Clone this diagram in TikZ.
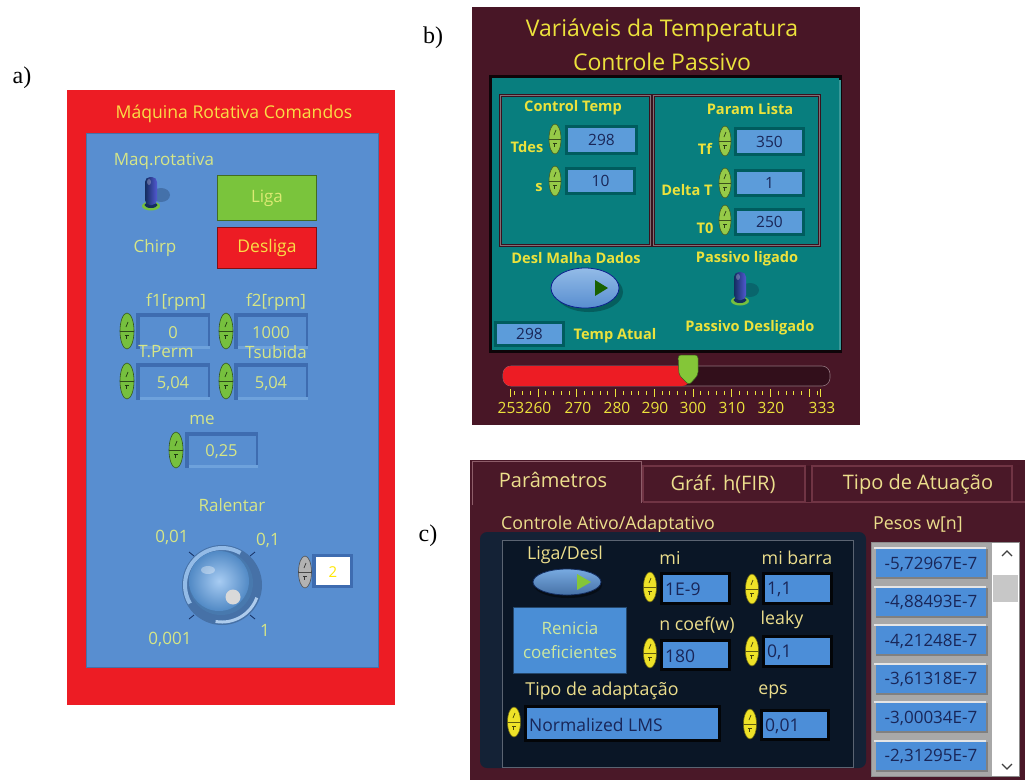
\documentclass[tikz,border=0pt]{standalone}
\usepackage{fontspec}
\setmainfont{Liberation Serif}
\newfontfamily\ui{Open Sans}
\usetikzlibrary{shapes.geometric}

% palette
\definecolor{redA}{RGB}{237,28,36}
\definecolor{blueA}{RGB}{88,142,208}
\definecolor{blueAdark}{RGB}{62,108,176}
\definecolor{blueAlight}{RGB}{120,170,225}
\definecolor{titleA}{RGB}{250,222,70}
\definecolor{lblA}{RGB}{214,230,135}
\definecolor{greenBtn}{RGB}{122,196,60}
\definecolor{greenSpin}{RGB}{118,192,62}
\definecolor{graySpin}{RGB}{178,178,178}
\definecolor{navyKnob}{RGB}{20,45,95}
\definecolor{knobBall}{RGB}{96,162,232}
\definecolor{maroonB}{RGB}{72,22,38}
\definecolor{tealB}{RGB}{8,126,126}
\definecolor{tealDark}{RGB}{0,92,94}
\definecolor{yelB}{RGB}{236,226,60}
\definecolor{fieldB}{RGB}{92,156,218}
\definecolor{navyTxt}{RGB}{25,38,88}
\definecolor{spinB}{RGB}{150,202,72}
\definecolor{maroonC}{RGB}{74,24,40}
\definecolor{tabEdge}{RGB}{112,52,68}
\definecolor{navyC}{RGB}{20,34,54}
\definecolor{navyC2}{RGB}{10,22,38}
\definecolor{yelC}{RGB}{236,222,140}
\definecolor{fieldC}{RGB}{76,142,216}
\definecolor{spinC}{RGB}{238,226,40}
\definecolor{btnC}{RGB}{74,142,214}
\definecolor{btnCtxt}{RGB}{205,232,160}
\definecolor{grayFrame}{RGB}{168,168,168}

\tikzset{
  lblA/.style={font=\ui\fontsize{17}{17}\selectfont, text=lblA, inner sep=0pt},
  valA/.style={font=\ui\fontsize{16.5}{16.5}\selectfont, text=lblA, inner sep=0pt},
  lblB/.style={font=\ui\bfseries\fontsize{14.6}{14.6}\selectfont, text=yelB, inner sep=0pt},
  valB/.style={font=\ui\fontsize{15.5}{15.5}\selectfont, text=navyTxt, inner sep=0pt},
  lblC/.style={font=\ui\fontsize{17.8}{17.8}\selectfont, text=yelC, inner sep=0pt},
  valC/.style={font=\ui\fontsize{17.5}{17.5}\selectfont, text=navyTxt, inner sep=0pt, anchor=west},
  tabtxt/.style={font=\ui\fontsize{20}{20}\selectfont, text=yelC, inner sep=0pt},
  panellbl/.style={font=\fontsize{24}{24}\selectfont, text=black, inner sep=0pt},
}

% spinner: name, x, y, colour, width, height
\newcommand\spinner[6]{%
  \node[ellipse, draw=#4!45!black, line width=0.6pt, fill=#4,
        minimum width=#5, minimum height=#6, inner sep=0pt] (#1) at (#2,#3) {};
  \draw[#4!40!black, line width=0.8pt] (#1.west) -- (#1.east);
  \draw[#4!30!black, line width=0.7pt] (#2-1,#3-4) -- (#2+1,#3-9);
  \draw[#4!30!black, line width=0.7pt] (#2-2,#3+4) -- (#2+2,#3+4) (#2-1,#3+4) -- (#2-1,#3+8);
}
% raised numeric field of the rotor panel: name, x1, y1, x2, y2, value
\newcommand\fieldA[6]{%
  \fill[blueAdark] (#2,#3) rectangle (#4,#5);
  \fill[blueAlight!70!blueA] (#2+4,#5-3) rectangle (#4,#5);
  \fill[blueA] (#2+4,#3+4) rectangle (#4-2,#5-3);
  \node[valA] (#1) at ({(#2+#4)/2},{(#3+#5)/2+2}) {#6};
}
% field of the temperature panel: name, x1, y1, x2, y2, value
\newcommand\fieldB[6]{%
  \fill[tealDark] (#2-3,#3-3) rectangle (#4+3,#5+3);
  \fill[fieldB] (#2,#3) rectangle (#4,#5);
  \node[valB] (#1) at ({(#2+#4)/2},{(#3+#5)/2}) {#6};
}
% field of the adaptive panel: name, x1, y1, x2, y2, value
\newcommand\fieldC[6]{%
  \fill[black!85!navyC] (#2-3,#3-3) rectangle (#4+3,#5+3);
  \fill[fieldC] (#2,#3) rectangle (#4,#5);
  \node[valC] (#1) at (#2+2,{(#3+#5)/2+1}) {#6};
}
% toggle lever: x, y (centre of the lever)
\newcommand\lever[2]{%
  \fill[navyKnob!60!black, opacity=0.25] (#1+10,#2+2) ellipse (9 and 7);
  \fill[greenSpin] (#1,#2+13) ellipse (9 and 4.5);
  \fill[navyKnob] (#1,#2+12) ellipse (6.5 and 3);
  \shade[left color=navyKnob, right color=navyKnob!40!blue!70!white, rounded corners=5]
    (#1-6,#2+12) -- (#1-6,#2-16) -- (#1+6,#2-16) -- (#1+6,#2+12) -- cycle;
  \fill[white, opacity=0.25] (#1-2,#2-11) ellipse (2 and 3);
}

\begin{document}
\begin{tikzpicture}[x=1pt,y=-1pt]
\useasboundingbox (0,0) rectangle (1025,780);
\fill[white] (0,0) rectangle (1025,780);

% ================= a) rotating machine commands =================
\node[panellbl] (la) at (22,78) {a)};
\fill[redA] (67,90) rectangle (395,705);
\fill[blueA!80!black] (86,133) rectangle (379,668);
\fill[blueA] (87,134) rectangle (378,667);
\node[font=\ui\fontsize{17.6}{17.6}\selectfont, text=titleA, inner sep=0pt] (titleA) at (234,114) {Máquina Rotativa Comandos};

\node[lblA] (maq) at (164,161) {Maq.rotativa};
\lever{151}{193}
\node[draw=greenBtn!55!black, line width=1pt, fill=greenBtn, minimum width=99, minimum height=45,
      inner sep=0pt, font=\ui\fontsize{17}{17}\selectfont, text=lblA!85!yellow] (liga) at (267,198) {Liga};
\node[draw=redA!55!black, line width=1pt, fill=redA, minimum width=99, minimum height=41,
      inner sep=0pt, font=\ui\fontsize{17.5}{17.5}\selectfont, text=titleA] (desliga) at (267,248) {Desliga};
\node[lblA] (chirp) at (155,248) {Chirp};

\node[lblA] (f1l) at (176,302) {f1[rpm]};
\node[lblA] (f2l) at (276,302) {f2[rpm]};
\fieldA{f1}{136}{313}{210}{349}{0}
\fieldA{f2}{234}{313}{308}{349}{1000}
\spinner{sf1}{127}{331}{greenSpin}{14}{36}
\spinner{sf2}{226}{331}{greenSpin}{14}{36}
\node[lblA] (tpl) at (166,352) {T.Perm};
\node[lblA] (tsl) at (276,352) {Tsubida};
\fieldA{tp}{136}{363}{210}{400}{5,04}
\fieldA{ts}{234}{363}{308}{400}{5,04}
\spinner{stp}{127}{381}{greenSpin}{14}{36}
\spinner{sts}{226}{381}{greenSpin}{14}{36}

\node[lblA] (mel) at (202,420) {me};
\fieldA{me}{185}{432}{258}{468}{0,25}
\spinner{sme}{176}{450}{greenSpin}{14}{36}

\node[lblA] (ral) at (232,505) {Ralentar};
% rotary knob
\fill[blueA!80!black] (222,585) circle (40);
\draw[blueAlight!80!white, line width=4pt] (222,585) ++(-60:37) arc[start angle=-60, end angle=-210, radius=37];
\draw[blueAlight!60!white, line width=3pt] (222,585) ++(20:37) arc[start angle=20, end angle=100, radius=37];
\fill[knobBall!75!black] (221,583) circle (32);
\shade[inner color=knobBall!55!white, outer color=knobBall!85!black] (219,581) circle (30);
\fill[white, opacity=0.35] (208,570) ellipse (7 and 4);
\fill[black!15] (233,597) circle (7.5);
\foreach \ax/\ay/\bx/\by in {189/552/194/556, 255/552/250/556, 189/619/194/615, 255/619/250/615}
  \draw[navyKnob, line width=0.8pt] (\ax,\ay) -- (\bx,\by);
\node[lblA] (k1) at (172,537) {0,01};
\node[lblA] (k2) at (268,540) {0,1};
\node[lblA] (k3) at (170,639) {0,001};
\node[lblA] (k4) at (265,630) {1};
% digital readout of the knob
\fill[blueAdark] (312,554) rectangle (353,588);
\fill[white] (316,557) rectangle (350,585);
\node[font=\ui\fontsize{15}{15}\selectfont, text=yellow!90!orange, inner sep=0pt] (kval) at (333,572) {2};
\spinner{skn}{305}{572}{graySpin}{13}{32}

% ================= b) temperature variables =================
\node[panellbl] (lb) at (433,38) {b)};
\fill[maroonB] (472,7) rectangle (860,425);
\node[font=\ui\fontsize{23}{23}\selectfont, text=yelB, inner sep=0pt] (titleB1) at (662,30) {Variáveis da Temperatura};
\node[font=\ui\fontsize{23}{23}\selectfont, text=yelB, inner sep=0pt] (titleB2) at (662,62) {Controle Passivo};
\fill[black!80!maroonB] (489,75) rectangle (842,353);
\fill[tealB] (492,78) rectangle (839,350);
\fill[tealB!80!white] (839,80) rectangle (841,350);
% two group boxes
\foreach \xa/\xb in {500/650, 653/819} {
  \draw[maroonB!80!black, line width=3pt] (\xa,95) rectangle (\xb,245);
  \draw[black!35!maroonB!60!white, line width=0.8pt] (\xa,95) rectangle (\xb,245);
}
\node[lblB] (ctl) at (573,108) {Control Temp};
\node[lblB] (pll) at (750,109) {Param Lista};

\fieldB{tdes}{568}{128}{635}{152}{298}
\spinner{stdes}{555}{139}{spinB}{12}{30}
\node[lblB] (tdesl) at (527,147) {Tdes};
\fieldB{sv}{568}{170}{633}{192}{10}
\spinner{ssv}{555}{181}{spinB}{12}{30}
\node[lblB] (svl) at (539,188) {s};

\fieldB{tf}{737}{130}{802}{153}{350}
\spinner{stf}{725}{141}{spinB}{12}{30}
\node[lblB] (tfl) at (705,149) {Tf};
\fieldB{dt}{737}{172}{802}{194}{1}
\spinner{sdt}{725}{183}{spinB}{12}{30}
\node[lblB] (dtl) at (687,190) {Delta T};
\fieldB{t0}{737}{211}{802}{233}{250}
\spinner{st0}{725}{220}{spinB}{12}{30}
\node[lblB] (t0l) at (705,228) {T0};

\node[lblB] (dmd) at (576,258) {Desl Malha Dados};
\node[lblB] (pli) at (747,259) {Passivo ligado};
% round push button
\fill[black, opacity=0.25] (589,292) ellipse (34 and 20);
\node[ellipse, draw=navyKnob!70!blue, line width=0.8pt, top color=blueAlight!80!white, bottom color=blueA,
      minimum width=68, minimum height=40, inner sep=0pt] (dmdbtn) at (585,288) {};
\fill[green!35!black!80!olive] (595,280) -- (608,288) -- (595,296) -- cycle;
\lever{740}{288}
\node[lblB] (pde) at (750,328) {Passivo Desligado};
\fieldB{tat}{497}{324}{562}{344}{298}
\node[lblB] (tatl) at (615,336) {Temp Atual};

% temperature slider
\fill[maroonB!70!black, rounded corners=8] (503,366) rectangle (830,386);
\draw[maroonB!60!white, line width=0.6pt, rounded corners=8] (503,366) rectangle (830,386);
\fill[redA, rounded corners=8] (503,366) rectangle (690,386);
\fill[greenSpin!90!yellow, rounded corners=3] (678,355) -- (698,355) -- (698,375) -- (689,385) -- (679,375) -- cycle;
\draw[greenSpin!50!black, line width=0.5pt, rounded corners=3] (678,355) -- (698,355) -- (698,375) -- (689,385) -- (679,375) -- cycle;
\foreach \v in {254,256,...,332} {
  \pgfmathsetmacro\xx{693+(\v-300)*3.875}
  \draw[yelB, line width=0.7pt] (\xx,391) -- (\xx,395);
}
\foreach \v in {253,260,270,...,330,333} {
  \pgfmathsetmacro\xx{693+(\v-300)*3.875}
  \draw[yelB, line width=0.9pt] (\xx,389) -- (\xx,397);
}
\foreach \v/\xx in {253/511, 260/538, 270/578, 280/617, 290/655, 300/693, 310/732, 320/771, 333/822}
  \node[font=\ui\fontsize{15.5}{15.5}\selectfont, text=yelB, inner sep=0pt] (tick\v) at (\xx,408) {\v};

% ================= c) active / adaptive control =================
\node[panellbl] (lc) at (428,536) {c)};
\fill[maroonC] (470,460) rectangle (1025,780);
% tabs
\draw[tabEdge, line width=1.2pt] (643,502) -- (643,466) -- (805,466) -- (805,502);
\draw[tabEdge, line width=1.2pt] (812,502) -- (812,466) -- (1012,466) -- (1012,502);
\draw[tabEdge, line width=1.2pt] (643,502) -- (1025,502);
\fill[maroonC!85!black] (806,466) rectangle (811,502);
\draw[tabEdge!80!white, line width=1pt] (472,505) -- (472,461) -- (641,461) -- (641,503);
\node[tabtxt] (tab1) at (553,480) {Parâmetros};
\node[tabtxt] (tab2) at (723,484) {Gráf. h(FIR)};
\node[tabtxt] (tab3) at (918,484) {Tipo de Atuação};

\node[lblC] (cad) at (608,525) {Controle Ativo/Adaptativo};
\node[lblC] (pwl) at (918,525) {Pesos w[n]};
\fill[navyC, rounded corners=7] (480,532) rectangle (866,768);
\fill[navyC2] (502,540) rectangle (853,767);
\draw[navyC!70!white, line width=0.6pt] (502,540) rectangle (853,767);

\node[lblC] (ldl) at (565,555) {Liga/Desl};
\fill[black, opacity=0.4] (568,585) ellipse (34 and 13);
\node[ellipse, draw=navyKnob, line width=0.8pt, top color=blueAlight, bottom color=blueA!80!black,
      minimum width=68, minimum height=26, inner sep=0pt] (ldbtn) at (567,582) {};
\fill[greenSpin!90!yellow] (577,574) -- (591,582) -- (577,590) -- cycle;

\node[draw=btnC!50!black, line width=1pt, fill=btnC, minimum width=113, minimum height=66,
      inner sep=0pt, align=center, text=btnCtxt,
      font=\ui\fontsize{17}{24}\selectfont] (renicia) at (570,640) {Renicia\\coeficientes};

\node[lblC] (mil) at (670,558) {mi};
\fieldC{mi}{663}{575}{728}{602}{1E-9}
\spinner{smi}{650}{587}{spinC}{13}{30}
\node[lblC] (mbl) at (797,558) {mi barra};
\fieldC{mb}{765}{575}{830}{602}{1,1}
\spinner{smb}{752}{589}{spinC}{13}{30}
\node[lblC] (ncl) at (697,625) {n coef(w)};
\fieldC{nc}{663}{642}{728}{668}{180}
\spinner{snc}{650}{653}{spinC}{13}{30}
\node[lblC] (lkl) at (782,620) {leaky};
\fieldC{lk}{765}{638}{830}{665}{0,1}
\spinner{slk}{752}{651}{spinC}{13}{30}
\node[lblC] (tal) at (602,691) {Tipo de adaptação};
\fieldC{ta}{527}{708}{718}{739}{Normalized LMS}
\spinner{sta}{514}{722}{spinC}{13}{30}
\node[lblC] (epl) at (773,692) {eps};
\fieldC{ep}{763}{712}{827}{738}{0,01}
\spinner{sep}{750}{724}{spinC}{13}{30}

% weight list with scroll bar
\fill[grayFrame] (871,542) rectangle (992,776);
\fill[white] (992,542) rectangle (1019,776);
\draw[black!45, line width=0.6pt] (871,542) rectangle (1019,776);
\fill[black!22] (993,575) rectangle (1018,602);
\draw[black!75, line width=1.2pt] (1002,556) -- (1007,551) -- (1012,556);
\draw[black!75, line width=1.2pt] (1002,764) -- (1007,769) -- (1012,764);
\foreach \i/\w in {0/-5{,}72967E-7, 1/-4{,}88493E-7, 2/-4{,}21248E-7, 3/-3{,}61318E-7, 4/-3{,}00034E-7, 5/-2{,}31295E-7} {
  \pgfmathsetmacro\cy{563+38.5*\i}
  \fill[black!50] (876,\cy-14) rectangle (988,\cy+16);
  \fill[black!10] (874,\cy-16) rectangle (986,\cy-14);
  \fill[fieldC] (876,\cy-14) rectangle (986,\cy+14);
  \node[font=\ui\fontsize{17}{17}\selectfont, text=navyTxt, inner sep=0pt] (w\i) at (931,\cy+1) {\w};
}
\end{tikzpicture}
\end{document}
